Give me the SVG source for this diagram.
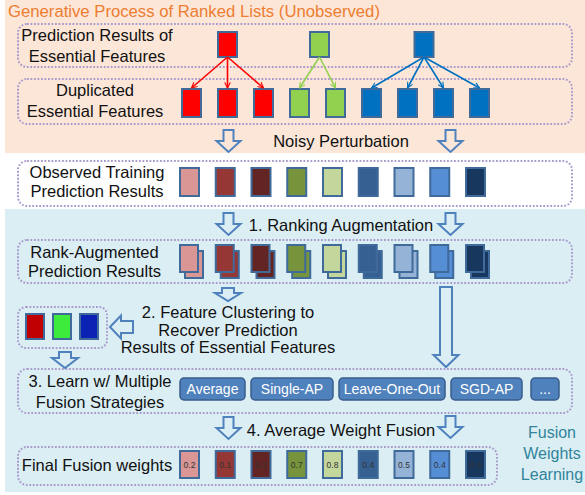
<svg xmlns="http://www.w3.org/2000/svg" xmlns:xlink="http://www.w3.org/1999/xlink" width="585" height="495" viewBox="0 0 585 495">
<style>
text{font-family:"Liberation Sans",Arial,sans-serif;fill:#111;}
.lb{font-size:16.5px;text-anchor:middle;}
.tl{font-size:16.7px;fill:#ED7D31;}
.tq{font-size:16px;fill:#31849B;text-anchor:middle;}
.bt{font-size:14px;fill:#fff;text-anchor:middle;}
.vl{font-size:8.5px;fill:#333;text-anchor:middle;}
.box{fill:none;stroke:#A99CCD;stroke-width:2;stroke-dasharray:1.8 1.7;}
.sq{stroke:#3F6A9A;stroke-width:2;}
.ha{fill:none;stroke:#4F81BD;stroke-width:2;stroke-linejoin:miter;}
.btn{fill:#4F81BD;stroke:#385D8A;stroke-width:1.5;}
.ar{stroke-width:1.6;fill:none;}
</style>
<defs>
<marker id="mr" viewBox="0 0 10 10" refX="9" refY="5" markerWidth="7" markerHeight="7" orient="auto" markerUnits="userSpaceOnUse"><path d="M1,1 L9,5 L1,9" fill="none" stroke="#FF0000" stroke-width="1.6"/></marker>
<marker id="mg" viewBox="0 0 10 10" refX="9" refY="5" markerWidth="7" markerHeight="7" orient="auto" markerUnits="userSpaceOnUse"><path d="M1,1 L9,5 L1,9" fill="none" stroke="#92D050" stroke-width="1.6"/></marker>
<marker id="mb" viewBox="0 0 10 10" refX="9" refY="5" markerWidth="7" markerHeight="7" orient="auto" markerUnits="userSpaceOnUse"><path d="M1,1 L9,5 L1,9" fill="none" stroke="#0070C0" stroke-width="1.6"/></marker>
<path id="dn" d="M-5,0 H5 V11 H12 L0,22 L-12,11 H-5 Z"/>
</defs>

<!-- backgrounds -->
<rect x="5" y="0" width="580" height="153" fill="#FCE6D8"/>
<rect x="5" y="153" width="580" height="56" fill="#FFFFFF"/>
<rect x="5" y="209" width="580" height="283" fill="#DBEEF4"/>

<text class="tl" x="8" y="17">Generative Process of Ranked Lists (Unobserved)</text>

<g id="row1">
<rect class="box" x="18" y="24" width="554" height="43" rx="9"/>
<text class="lb" x="97" y="41">Prediction Results of</text>
<text class="lb" x="97" y="62">Essential Features</text>
<rect class="sq" x="218" y="32" width="19" height="25" fill="#FF0000"/>
<rect class="sq" x="310" y="32" width="19" height="25" fill="#92D050"/>
<rect class="sq" x="414.5" y="32" width="19" height="25" fill="#0070C0"/>
</g>

<g id="row2">
<rect class="box" x="18" y="79" width="554" height="45" rx="9"/>
<text class="lb" x="95" y="96">Duplicated</text>
<text class="lb" x="95" y="117">Essential Features</text>
<rect class="sq" x="182" y="89" width="19" height="28" fill="#FF0000"/>
<rect class="sq" x="218" y="89" width="19" height="28" fill="#FF0000"/>
<rect class="sq" x="254" y="89" width="19" height="28" fill="#FF0000"/>
<rect class="sq" x="290" y="89" width="19" height="28" fill="#92D050"/>
<rect class="sq" x="326" y="89" width="19" height="28" fill="#92D050"/>
<rect class="sq" x="362" y="89" width="19" height="28" fill="#0070C0"/>
<rect class="sq" x="398" y="89" width="19" height="28" fill="#0070C0"/>
<rect class="sq" x="434" y="89" width="19" height="28" fill="#0070C0"/>
<rect class="sq" x="470" y="89" width="19" height="28" fill="#0070C0"/>
</g>

<g id="row3">
<rect class="box" x="18" y="161" width="554" height="45" rx="9"/>
<text class="lb" x="97" y="178">Observed Training</text>
<text class="lb" x="97" y="197">Prediction Results</text>
<rect class="sq" x="180" y="168" width="19" height="28" fill="#D99694"/>
<rect class="sq" x="215.75" y="168" width="19" height="28" fill="#953735"/>
<rect class="sq" x="251.5" y="168" width="19" height="28" fill="#632523"/>
<rect class="sq" x="287.25" y="168" width="19" height="28" fill="#77933C"/>
<rect class="sq" x="323" y="168" width="19" height="28" fill="#C3D69B"/>
<rect class="sq" x="358.75" y="168" width="19" height="28" fill="#376092"/>
<rect class="sq" x="394.5" y="168" width="19" height="28" fill="#95B3D7"/>
<rect class="sq" x="430.25" y="168" width="19" height="28" fill="#558ED5"/>
<rect class="sq" x="466" y="168" width="19" height="28" fill="#17375E"/>
</g>

<g id="row4">
<rect class="box" x="18" y="240" width="554" height="43" rx="9"/>
<text class="lb" x="94.5" y="258">Rank-Augmented</text>
<text class="lb" x="94.5" y="277">Prediction Results</text>
<g>
<rect class="sq" x="185" y="251" width="18" height="27" fill="#D99694"/><rect class="sq" x="180" y="245" width="18" height="27" fill="#D99694"/>
<rect class="sq" x="220.75" y="251" width="18" height="27" fill="#953735"/><rect class="sq" x="215.75" y="245" width="18" height="27" fill="#953735"/>
<rect class="sq" x="256.5" y="251" width="18" height="27" fill="#632523"/><rect class="sq" x="251.5" y="245" width="18" height="27" fill="#632523"/>
<rect class="sq" x="292.25" y="251" width="18" height="27" fill="#77933C"/><rect class="sq" x="287.25" y="245" width="18" height="27" fill="#77933C"/>
<rect class="sq" x="328" y="251" width="18" height="27" fill="#C3D69B"/><rect class="sq" x="323" y="245" width="18" height="27" fill="#C3D69B"/>
<rect class="sq" x="363.75" y="251" width="18" height="27" fill="#376092"/><rect class="sq" x="358.75" y="245" width="18" height="27" fill="#376092"/>
<rect class="sq" x="399.5" y="251" width="18" height="27" fill="#95B3D7"/><rect class="sq" x="394.5" y="245" width="18" height="27" fill="#95B3D7"/>
<rect class="sq" x="435.25" y="251" width="18" height="27" fill="#558ED5"/><rect class="sq" x="430.25" y="245" width="18" height="27" fill="#558ED5"/>
<rect class="sq" x="471" y="251" width="18" height="27" fill="#17375E"/><rect class="sq" x="466" y="245" width="18" height="27" fill="#17375E"/>
</g>
</g>

<g id="cluster">
<rect class="box" x="18" y="307" width="89" height="41" rx="8"/>
<rect class="sq" x="26" y="314" width="18" height="25" fill="#C00000"/>
<rect class="sq" x="53" y="314" width="18" height="25" fill="#3DEB3D"/>
<rect class="sq" x="80" y="314" width="18" height="25" fill="#0B22B4"/>
</g>

<g id="row5">
<rect class="box" x="18" y="369" width="554" height="44" rx="9"/>
<text class="lb" x="100" y="387">3. Learn w/ Multiple</text>
<text class="lb" x="100" y="408">Fusion Strategies</text>
<g id="btn-average"><rect class="btn" x="180" y="378" width="65" height="22" rx="4"/><text class="bt" x="212.5" y="394">Average</text></g>
<g id="btn-single"><rect class="btn" x="251" y="378" width="82" height="22" rx="4"/><text class="bt" x="292" y="394">Single-AP</text></g>
<g id="btn-loo"><rect class="btn" x="339" y="378" width="106" height="22" rx="4"/><text class="bt" x="392" y="394">Leave-One-Out</text></g>
<g id="btn-sgd"><rect class="btn" x="451" y="378" width="71" height="22" rx="4"/><text class="bt" x="486.5" y="394">SGD-AP</text></g>
<g id="btn-more"><rect class="btn" x="531" y="378" width="28" height="22" rx="4"/><text class="bt" x="545" y="394">...</text></g>
</g>

<g id="row6">
<rect class="box" x="18" y="447" width="479" height="38" rx="9"/>
<text class="lb" x="97" y="471">Final Fusion weights</text>
<rect class="sq" x="180" y="451" width="19" height="27" fill="#D99694"/><text class="vl" x="189.5" y="468">0.2</text>
<rect class="sq" x="215.75" y="451" width="19" height="27" fill="#953735"/><text class="vl" x="225.25" y="468">0.1</text>
<rect class="sq" x="251.5" y="451" width="19" height="27" fill="#632523"/><text class="vl" x="261" y="468">0.2</text>
<rect class="sq" x="287.25" y="451" width="19" height="27" fill="#77933C"/><text class="vl" x="296.75" y="468">0.7</text>
<rect class="sq" x="323" y="451" width="19" height="27" fill="#C3D69B"/><text class="vl" x="332.5" y="468">0.8</text>
<rect class="sq" x="358.75" y="451" width="19" height="27" fill="#376092"/><text class="vl" x="368.25" y="468">0.4</text>
<rect class="sq" x="394.5" y="451" width="19" height="27" fill="#95B3D7"/><text class="vl" x="404" y="468">0.5</text>
<rect class="sq" x="430.25" y="451" width="19" height="27" fill="#558ED5"/><text class="vl" x="439.75" y="468">0.4</text>
<rect class="sq" x="466" y="451" width="19" height="27" fill="#17375E"/><text class="vl" x="475.5" y="468">0.5</text>
</g>

<g id="labels">
<text class="lb" x="341" y="147">Noisy Perturbation</text>
<text class="lb" x="341" y="231">1. Ranking Augmentation</text>
<text class="lb" x="228" y="318">2. Feature Clustering to</text>
<text class="lb" x="228" y="336">Recover Prediction</text>
<text class="lb" x="228" y="353">Results of Essential Features</text>
<text class="lb" x="341" y="436">4. Average Weight Fusion</text>
<text class="tq" x="552" y="438">Fusion</text>
<text class="tq" x="552" y="459">Weights</text>
<text class="tq" x="552" y="480">Learning</text>
</g>

<g id="connectors">
<line class="ar" stroke="#FF0000" x1="227.5" y1="57" x2="191.5" y2="88" marker-end="url(#mr)"/>
<line class="ar" stroke="#FF0000" x1="227.5" y1="57" x2="227.5" y2="88" marker-end="url(#mr)"/>
<line class="ar" stroke="#FF0000" x1="227.5" y1="57" x2="263.5" y2="88" marker-end="url(#mr)"/>
<line class="ar" stroke="#92D050" x1="319.5" y1="57" x2="299.5" y2="88" marker-end="url(#mg)"/>
<line class="ar" stroke="#92D050" x1="319.5" y1="57" x2="335.5" y2="88" marker-end="url(#mg)"/>
<line class="ar" stroke="#0070C0" x1="424" y1="57" x2="371.5" y2="88" marker-end="url(#mb)"/>
<line class="ar" stroke="#0070C0" x1="424" y1="57" x2="407.5" y2="88" marker-end="url(#mb)"/>
<line class="ar" stroke="#0070C0" x1="424" y1="57" x2="443.5" y2="88" marker-end="url(#mb)"/>
<line class="ar" stroke="#0070C0" x1="424" y1="57" x2="479.5" y2="88" marker-end="url(#mb)"/>
<use href="#dn" class="ha" x="228.5" y="130"/>
<use href="#dn" class="ha" x="450.5" y="130"/>
<use href="#dn" class="ha" x="228.5" y="213"/>
<use href="#dn" class="ha" x="450.5" y="213"/>
<use href="#dn" class="ha" x="228.5" y="417"/>
<use href="#dn" class="ha" x="450.5" y="416"/>
<path class="ha" d="M222,288 H234 V293 H241 L228,301 L215,293 H222 Z"/>
<path class="ha" d="M59,352 H71 V358 H78 L65,368 L52,358 H59 Z"/>
<path class="ha" d="M440,287 H452 V355 H458.5 L446,367 L433.5,355 H440 Z"/>
<path class="ha" d="M110,327 L121,315.5 V321 H133 V333 H121 V338.5 Z"/>
</g>
</svg>
